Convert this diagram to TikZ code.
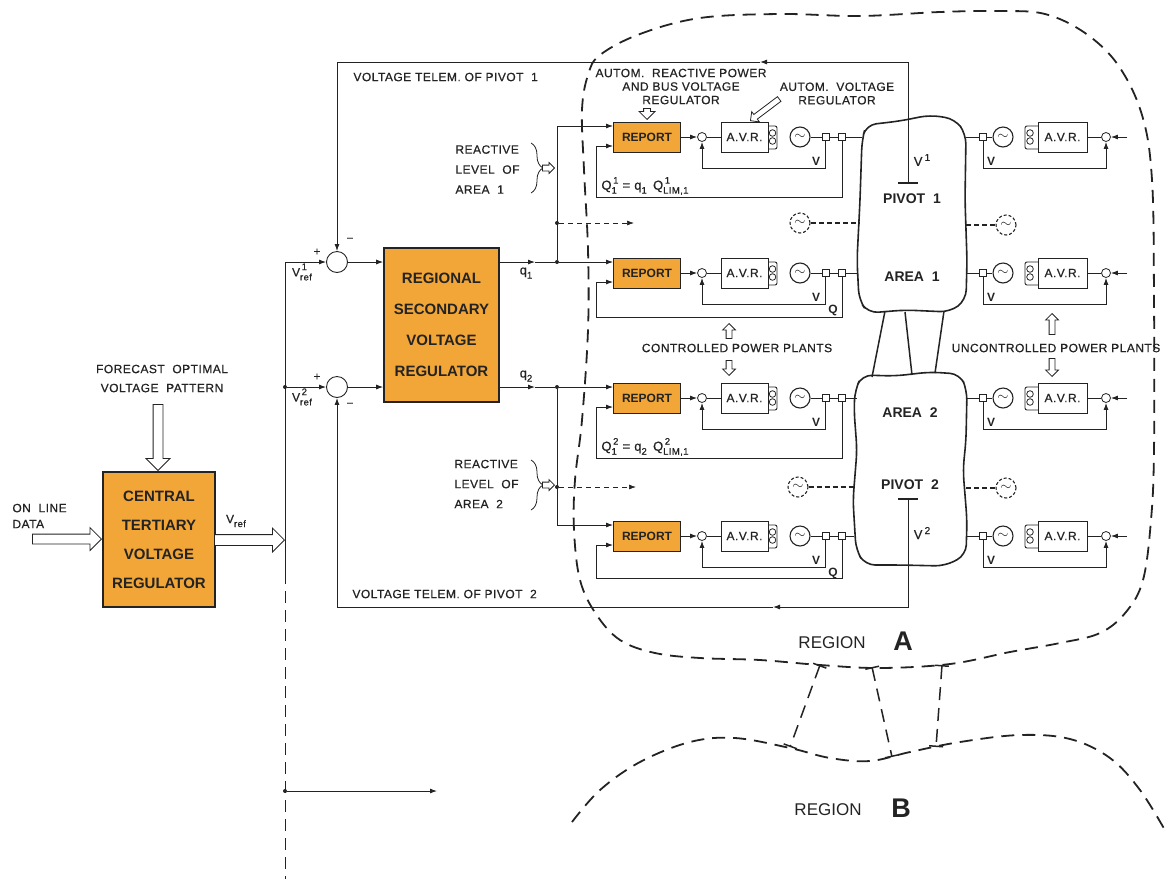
\documentclass[tikz,border=0pt]{standalone}
\usepackage{fontspec}
\setmainfont{Liberation Sans}
\newfontfamily\lblfont[LetterSpace=4, FakeBold=0.6]{Liberation Sans}
\usepackage{tikz}
\usetikzlibrary{shapes.geometric, shapes.arrows, arrows.meta}
\usetikzlibrary{decorations.pathreplacing}
\usetikzlibrary{positioning}
\definecolor{boxorange}{RGB}{242,166,56}
\definecolor{ink}{RGB}{35,35,35}
\tikzstyle{arrow} = [-{Latex[length=7pt,width=5pt]}]
\tikzstyle{dasharrow} = [-{Latex[length=7pt,width=5pt]}, line width=0.7pt, dash pattern=on 5pt off 4pt]
\tikzstyle{bigbox} = [rectangle, draw=ink, line width=1.6pt, fill=boxorange, font=\fontsize{15pt}{31pt}\selectfont\bfseries, align=center, inner sep=0pt]
\tikzstyle{report} = [rectangle, draw=ink, line width=0.9pt, fill=boxorange, minimum width=67pt, minimum height=30pt, inner sep=0pt, font=\fontsize{12pt}{12pt}\selectfont\bfseries]
\tikzstyle{avr} = [rectangle, draw=ink, line width=0.9pt, fill=white, minimum height=30pt, inner sep=0pt, font=\fontsize{12pt}{12pt}\lblfont]
\tikzstyle{sumbig} = [circle, draw=ink, line width=0.9pt, minimum size=21pt, inner sep=0pt]
\tikzstyle{sumsmall} = [circle, draw=ink, line width=0.8pt, minimum size=9pt, inner sep=0pt]
\tikzstyle{gen} = [circle, draw=ink, line width=1.1pt, minimum size=20pt, inner sep=0pt, font=\fontsize{14pt}{14pt}\selectfont]
\tikzstyle{deadgen} = [gen, dash pattern=on 3pt off 2pt]
\tikzstyle{sq} = [rectangle, draw=ink, line width=0.8pt, minimum size=7pt, inner sep=0pt]
\tikzstyle{dot} = [circle, fill=ink, minimum size=4pt, inner sep=0pt]
\tikzstyle{hollow} = [single arrow, draw=ink, fill=white, line width=0.8pt, inner sep=0pt, text depth=0pt, single arrow head indent=0pt, anchor=tip]
\tikzstyle{lbl} = [font=\fontsize{12pt}{20pt}\lblfont, inner sep=0pt]
\tikzstyle{sym} = [font=\fontsize{12pt}{12pt}\lblfont, inner sep=0pt]
\tikzstyle{big} = [font=\fontsize{14pt}{14pt}\selectfont\bfseries, inner sep=0pt]
\tikzstyle{bounds} = [line width=1.8pt, dash pattern=on 13pt off 8pt]
\tikzstyle{blob} = [line width=1.6pt, rounded corners=10pt]
\newcommand\upidx[2]{\raisebox{-4pt}{\fontsize{9.5pt}{9.5pt}\selectfont\shortstack[l]{\,#1\\[0.5pt]#2}}}
\newcommand\lowidx[1]{\raisebox{-4pt}{\fontsize{9.5pt}{9.5pt}\selectfont #1}}
\begin{document}
\begin{tikzpicture}[x=1pt, y=-1pt, line width=0.9pt, color=ink]
\useasboundingbox (0,0) rectangle (1166,879);
\draw[bounds] plot[smooth cycle, tension=0.6] coordinates {(600,55) (640,34) (700,18) (780,14) (860,16) (940,12) (1000,11) (1045,14) (1085,33) (1118,65) (1142,115) (1152,180) (1154,300) (1154,450) (1151,520) (1143,580) (1126,612) (1100,633) (1060,643) (1010,652) (950,664) (880,668) (820,665) (760,660) (700,658) (655,653) (620,640) (596,614) (580,580) (574,530) (575,480) (582,420) (588,330) (588,250) (584,170) (582,110) (588,75)};
\draw[bounds] plot[smooth, tension=0.6] coordinates {(572,822) (600,790) (640,762) (690,742) (735,738) (790,748) (830,758) (870,761) (910,752) (960,742) (1020,735) (1070,739) (1110,758) (1140,790) (1166,832)};
\coordinate (ta1) at (820,665);
\coordinate (tb1) at (790,747);
\coordinate (ta2) at (872,667);
\coordinate (tb2) at (892,757);
\coordinate (ta3) at (942,665);
\coordinate (tb3) at (936,747);
\draw[bounds, line width=1.5pt, {Bar[width=14pt]}-{Bar[width=14pt]}] (ta1) -- (tb1);
\draw[bounds, line width=1.5pt, {Bar[width=14pt]}-{Bar[width=14pt]}] (ta2) -- (tb2);
\draw[bounds, line width=1.5pt, {Bar[width=14pt]}-{Bar[width=14pt]}] (ta3) -- (tb3);
\node (rga) [font=\fontsize{17pt}{17pt}\selectfont] at (832,643) {REGION};
\node (rgal) [font=\fontsize{27pt}{27pt}\selectfont\bfseries] at (903,641) {A};
\node (rgb) [font=\fontsize{17pt}{17pt}\selectfont] at (828,810) {REGION};
\node (rgbl) [font=\fontsize{27pt}{27pt}\selectfont\bfseries] at (901,808) {B};

\node (cen) [bigbox, minimum width=112pt, minimum height=135pt, font=\fontsize{15pt}{29pt}\selectfont\bfseries] at (159,539.5) {CENTRAL\\TERTIARY\\VOLTAGE\\REGULATOR};
\node (fc) [lbl, align=center, font=\fontsize{12pt}{19pt}\lblfont] at (162,378.5) {FORECAST\ \ OPTIMAL\\VOLTAGE\ \ PATTERN};
\node (old) [lbl, align=left, font=\fontsize{12pt}{16pt}\lblfont, anchor=west] at (12,516) {ON\ \ LINE\\DATA};
\node (fcarr) [hollow, rotate=-90, minimum height=66pt, text height=9pt, single arrow head extend=7pt] at (158,471) {};
\node (onarr) [hollow, minimum height=69pt, text height=9pt, single arrow head extend=6.5pt] at (102,539) {};
\node (vrarr) [hollow, minimum height=70pt, text height=10pt, single arrow head extend=6.5pt] at (285,540) {};
\node (vrl) [sym] at (236,521) {V\lowidx{ref}};

\coordinate (vt) at (285,262);
\coordinate (vm) at (285,572);
\coordinate (ve) at (285,879);
\node (v2) [dot] at (285,387) {};
\node (v3) [dot] at (285,791) {};
\coordinate (bo) at (437,791);
\draw (vt) -- (vm);
\draw[line width=0.7pt, dash pattern=on 12pt off 7pt] (vm) -- (ve);
\draw[arrow] (v3) -- (bo);

\node (s1) [sumbig] at (337,262) {};
\node (s2) [sumbig] at (337,387) {};
\node (reg) [bigbox, minimum width=115pt, minimum height=154pt] at (441.5,325) {REGIONAL\\SECONDARY\\VOLTAGE\\REGULATOR};
\draw[arrow] (vt) -- (s1);
\draw[arrow] (v2) -- (s2);
\draw[arrow] (s1) -- (s1 -| reg.west);
\draw[arrow] (s2) -- (s2 -| reg.west);
\node (p1) [sym] at (317,252) {+};
\node (m1) [sym] at (350,240) {−};
\node (p2) [sym] at (317,377) {+};
\node (m2) [sym] at (350,405) {−};
\node (vr1) [sym] at (302,272) {V\upidx{1}{ref}};
\node (vr2) [sym] at (302,397) {V\upidx{2}{ref}};

\node (j1) [dot] at (557,262) {};
\node (j2) [dot] at (557,387) {};
\coordinate (qa1) at (535,262);
\coordinate (qa2) at (535,387);
\draw[arrow] (reg.east |- s1) -- (qa1);
\draw (qa1) -- (j1);
\draw[arrow] (reg.east |- s2) -- (qa2);
\draw (qa2) -- (j2);
\node (ql1) [sym, font=\fontsize{13pt}{13pt}\lblfont] at (526,273) {q\lowidx{1}};
\node (ql2) [sym, font=\fontsize{13pt}{13pt}\lblfont] at (526,376) {q\lowidx{2}};

\foreach \r/\y/\ql/\bx in {1/137/60/862, 2/273/44/858, 3/398/60/857, 4/536/42/854} {
  \node (rep\r) [report] at (647,\y) {REPORT};
  \node (sc\r) [sumsmall] at (702,\y) {};
  \node (avr\r) [avr, minimum width=47pt] at (744.5,\y) {A.V.R.};
  \node (g\r) [gen] at (800,\y) {$\sim$};
  \node (sa\r) [sq] at (825.5,\y) {};
  \node (sb\r) [sq] at (842,\y) {};
  \coordinate (ina\r) at ([yshift=11pt]rep\r.west);
  \coordinate (inb\r) at ([yshift=-9pt]rep\r.west);
  \coordinate (qc\r) at (596,\y+\ql);
  \coordinate (bw\r) at (\bx,\y);
  \draw[arrow] (rep\r) -- (sc\r);
  \draw (sc\r) -- (avr\r);
  \draw[rounded corners=2pt] (768,\y-11) -- (777,\y-11) -- (777,\y+12) -- (768,\y+12);
  \draw[line width=0.8pt] (772.5,\y-4) circle (3.3pt) (772.5,\y+4) circle (3.3pt);
  \draw (g\r) -- (sa\r) -- (sb\r) -- (bw\r);
  \draw[arrow] (sa\r.south) -- ++(0,28) -| (sc\r.south);
  \draw[arrow] (sb\r.south) |- (qc\r) |- (inb\r);
  \node (vl\r) [sym, font=\fontsize{12pt}{12pt}\selectfont\bfseries] at (816,\y+24) {V};
}
\node (qq2) [sym, font=\fontsize{12pt}{12pt}\selectfont\bfseries] at (833,310) {Q};
\node (qq4) [sym, font=\fontsize{12pt}{12pt}\selectfont\bfseries] at (833,573) {Q};
\node (qf1) [sym, font=\fontsize{13pt}{13pt}\lblfont, anchor=west] at (601,186) {Q\upidx{1}{1}\ = q\lowidx{1}\ \,Q\upidx{1}{LIM,1}};
\node (qf3) [sym, font=\fontsize{13pt}{13pt}\lblfont, anchor=west] at (601,447) {Q\upidx{2}{1}\ = q\lowidx{2}\ \,Q\upidx{2}{LIM,1}};

\draw[arrow] (j1) -- (ina2);
\draw[arrow] (j1) |- (ina1);
\draw[arrow] (j2) -- (ina3);
\draw[arrow] (j2) |- (ina4);
\node (d1) [dot] at (557,223) {};
\node (d2) [dot] at (557,487) {};
\coordinate (da1) at (634,223);
\coordinate (da2) at (636,487);
\draw[dasharrow] (d1) -- (da1);
\draw[dasharrow] (d2) -- (da2);

\node (rl1) [lbl, align=left, anchor=west] at (455,169.5) {REACTIVE\\LEVEL\ \ OF\\AREA\ \ 1};
\node (rl2) [lbl, align=left, anchor=west] at (454,484) {REACTIVE\\LEVEL\ \ OF\\AREA\ \ 2};
\draw[line width=0.8pt, decorate, decoration={brace, amplitude=12pt}] (531,143) -- (531,193);
\draw[line width=0.8pt, decorate, decoration={brace, amplitude=12pt}] (531,460) -- (531,510);
\node (rla1) [hollow, minimum height=12pt, text height=5pt, single arrow head extend=2.5pt] at (555,168) {};
\node (rla2) [hollow, minimum height=12pt, text height=5pt, single arrow head extend=2.5pt] at (555,485) {};

\foreach \r/\y/\bx in {1/137/966, 2/273/966, 3/398/967, 4/536/966} {
  \coordinate (be\r) at (\bx,\y);
  \node (rs\r) [sq] at (983,\y) {};
  \node (rg\r) [gen] at (1003,\y) {$\sim$};
  \node (ravr\r) [avr, minimum width=49pt] at (1062.5,\y) {A.V.R.};
  \node (rc\r) [sumsmall] at (1106,\y) {};
  \coordinate (ri\r) at (1127,\y);
  \draw (be\r) -- (rs\r) -- (rg\r);
  \draw[rounded corners=2pt] (1038,\y-11) -- (1025,\y-11) -- (1025,\y+12) -- (1038,\y+12);
  \draw[line width=0.8pt] (1030,\y-4) circle (3.3pt) (1030,\y+4) circle (3.3pt);
  \draw (ravr\r) -- (rc\r);
  \draw[arrow] (ri\r) -- (rc\r);
  \draw[arrow] (rs\r.south) -- ++(0,27.5) -| (rc\r.south);
  \node (rvl\r) [sym, font=\fontsize{12pt}{12pt}\selectfont\bfseries] at (991,\y+24) {V};
}

\draw[blob] (862,140) -- (866,125) -- (900,121) -- (930,115) -- (955,119) -- (966,134) -- (965,200) -- (967,260) -- (966,300) -- (950,312) -- (905,310) -- (868,313) -- (859,300) -- (857,260) -- (860,200) -- cycle;
\draw[blob] (855,390) -- (862,375) -- (895,376) -- (930,372) -- (960,374) -- (967,390) -- (966,440) -- (963,470) -- (967,520) -- (966,555) -- (945,566) -- (900,565) -- (865,565) -- (856,550) -- (853,500) -- (857,450) -- (854,410) -- cycle;
\coordinate (tl1) at (885,311);
\coordinate (tl2) at (872,377);
\coordinate (tm3) at (905,312);
\coordinate (tm4) at (912,375);
\coordinate (tr1) at (944,311);
\coordinate (tr2) at (935,373);
\draw[line width=1.5pt] (tl1) -- (tl2);
\draw[line width=1.5pt] (tm3) -- (tm4);
\draw[line width=1.5pt] (tr1) -- (tr2);
\node (ar1) [big] at (912,277) {AREA\ \ 1};
\node (pi1) [big] at (912,199) {PIVOT\ \ 1};
\node (ar2) [big] at (910,413) {AREA\ \ 2};
\node (pi2) [big] at (910,485) {PIVOT\ \ 2};

\node (dg1) [deadgen] at (800,223) {$\sim$};
\node (dg2) [deadgen] at (1006,225) {$\sim$};
\node (dg3) [deadgen] at (798,487) {$\sim$};
\node (dg4) [deadgen] at (1006,488) {$\sim$};
\coordinate (db1) at (860,223);
\coordinate (db2) at (966,225);
\coordinate (db3) at (855,487);
\coordinate (db4) at (966,488);
\draw[line width=1.2pt, dash pattern=on 5pt off 3pt] (dg1) -- (db1);
\draw[line width=1.2pt, dash pattern=on 5pt off 3pt] (db2) -- (dg2);
\draw[line width=1.2pt, dash pattern=on 5pt off 3pt] (dg3) -- (db3);
\draw[line width=1.2pt, dash pattern=on 5pt off 3pt] (db4) -- (dg4);

\coordinate (pv1) at (908,183);
\coordinate (pv2) at (908,499);
\draw[line width=2pt] ([xshift=-10pt]pv1) -- ([xshift=10pt]pv1);
\draw[line width=2pt] ([xshift=-10pt]pv2) -- ([xshift=10pt]pv2);
\node (pvl1) [sym, font=\fontsize{13pt}{13pt}\lblfont] at (922,160) {V\,\raisebox{5pt}{\fontsize{10pt}{10pt}\selectfont 1}};
\node (pvl2) [sym, font=\fontsize{13pt}{13pt}\lblfont] at (922,533) {V\,\raisebox{5pt}{\fontsize{10pt}{10pt}\selectfont 2}};
\coordinate (tm1) at (760,62);
\coordinate (tm2) at (773,607);
\draw[arrow] (pv1) |- (tm1);
\draw[arrow] (tm1) -| (s1);
\draw[arrow] (pv2) |- (tm2);
\draw[arrow] (tm2) -| (s2);
\node (tel1) [lbl, anchor=west] at (353,77) {VOLTAGE TELEM. OF PIVOT\ \ 1};
\node (tel2) [lbl, anchor=west] at (352,594) {VOLTAGE TELEM. OF PIVOT\ \ 2};

\node (arp) [lbl, align=center, font=\fontsize{12pt}{13.5pt}\lblfont] at (681,86.5) {AUTOM.\ \ REACTIVE POWER\\AND BUS VOLTAGE\\REGULATOR};
\node (avl) [lbl, align=center, font=\fontsize{12pt}{13.5pt}\lblfont] at (837,93.5) {AUTOM.\ \ VOLTAGE\\REGULATOR};
\node (arpa) [hollow, rotate=-90, minimum height=11pt, text height=6pt, single arrow head extend=4.5pt] at (647,120) {};
\node (avla) [hollow, rotate=217, minimum height=36pt, text height=5pt, single arrow head extend=3.5pt] at (750,121) {};

\node (cpp) [lbl] at (737,348) {CONTROLLED POWER PLANTS};
\node (cppu) [hollow, rotate=90, minimum height=15pt, text height=5pt, single arrow head extend=3.5pt] at (729,323) {};
\node (cppd) [hollow, rotate=-90, minimum height=15pt, text height=5pt, single arrow head extend=3.5pt] at (729,376) {};
\node (upp) [lbl] at (1056,348) {UNCONTROLLED POWER PLANTS};
\node (uppu) [hollow, rotate=90, minimum height=21pt, text height=5pt, single arrow head extend=3.5pt] at (1052,313) {};
\node (uppd) [hollow, rotate=-90, minimum height=18pt, text height=5pt, single arrow head extend=3.5pt] at (1052,377) {};
\end{tikzpicture}
\end{document}
